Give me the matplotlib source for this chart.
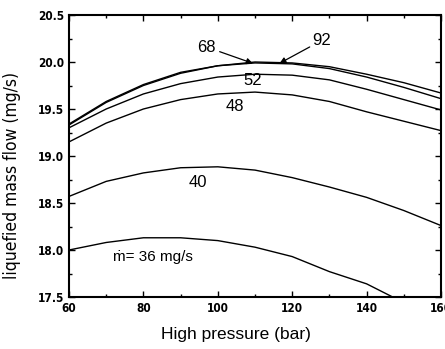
import matplotlib
matplotlib.use("Agg")
import matplotlib.pyplot as plt
from matplotlib.ticker import MultipleLocator
from matplotlib import font_manager

pressure = [60, 70, 80, 90, 100, 110, 120, 130, 140, 150, 160]
flow_92 = [19.33, 19.57, 19.75, 19.88, 19.96, 20.00, 19.99, 19.95, 19.87, 19.78, 19.67]
flow_68 = [19.34, 19.58, 19.76, 19.89, 19.96, 19.99, 19.98, 19.93, 19.84, 19.73, 19.61]
flow_52 = [19.30, 19.50, 19.66, 19.77, 19.84, 19.87, 19.86, 19.81, 19.71, 19.60, 19.49]
flow_48 = [19.15, 19.35, 19.50, 19.60, 19.66, 19.68, 19.65, 19.58, 19.47, 19.37, 19.27]
flow_40 = [18.57, 18.73, 18.82, 18.875, 18.885, 18.85, 18.77, 18.67, 18.56, 18.42, 18.26]
flow_36 = [18.00, 18.08, 18.13, 18.13, 18.10, 18.03, 17.93, 17.77, 17.64, 17.44, 17.20]

x_ticks = [60, 80, 100, 120, 140, 160]
y_ticks = [17.5, 18.0, 18.5, 19.0, 19.5, 20.0, 20.5]
y_tick_labels = ["17.5", "18.0", "18.5", "19.0", "19.5", "20.0", "20.5"]

names = {f.name for f in font_manager.fontManager.ttflist}
if "Liberation Sans Narrow" in names:
    narrow, stretch = "Liberation Sans Narrow", "normal"
else:
    narrow, stretch = "DejaVu Sans", "condensed"

fig = plt.figure(figsize=(4.45, 3.49), dpi=100)
ax = fig.add_axes([69/445, 1-297/349, (441-69)/445, (297-15)/349])

for series in [flow_92, flow_68, flow_52, flow_48, flow_40, flow_36]:
    ax.plot(pressure, series, color="black", lw=1.0)

ax.set_xlim(60, 160)
ax.set_ylim(17.5, 20.5)
ax.set_xticks(x_ticks)
ax.set_yticks(y_ticks)
ax.set_yticklabels(y_tick_labels)
ax.xaxis.set_minor_locator(MultipleLocator(10))
ax.yaxis.set_minor_locator(MultipleLocator(0.25))
ax.tick_params(which="both", direction="in", top=True, right=True, width=1.0)
ax.tick_params(which="major", length=4)
ax.tick_params(which="minor", length=2.5)
for lab in ax.get_xticklabels() + ax.get_yticklabels():
    lab.set_fontfamily(narrow)
    lab.set_fontstretch(stretch)
    lab.set_fontweight("bold")
    lab.set_fontsize(8.5)
for s in ax.spines.values():
    s.set_linewidth(1.5)

ax.set_xlabel("High pressure (bar)", fontsize=12.5, family="Liberation Sans")
ax.xaxis.set_label_coords(0.45, -0.105)
ax.set_ylabel("liquefied mass flow (mg/s)", fontsize=12.5, family=narrow,
              fontstretch=stretch, fontweight="medium")
ax.yaxis.set_label_coords(-0.128, 0.43)

tk = dict(fontsize=12, family="Liberation Sans", ha="center", va="center")
ax.text(96.97, 20.152, "68", **tk)
ax.text(127.8, 20.234, "92", **tk)
ax.text(109.4, 19.798, "52", **tk)
ax.text(104.6, 19.524, "48", **tk)
ax.text(94.6, 18.713, "40", **tk)
ax.text(71.8, 17.93, "ṁ= 36 mg/s", fontsize=11, family="Liberation Sans", ha="left", va="center")

ap = dict(arrowstyle="-|>", color="black", lw=0.9, mutation_scale=9, shrinkA=0, shrinkB=0)
ax.annotate("", xy=(109.4, 19.986), xytext=(100.5, 20.11), arrowprops=ap)
ax.annotate("", xy=(116.6, 19.986), xytext=(124.7, 20.16), arrowprops=ap)

fig.savefig("out.png", dpi=100)
